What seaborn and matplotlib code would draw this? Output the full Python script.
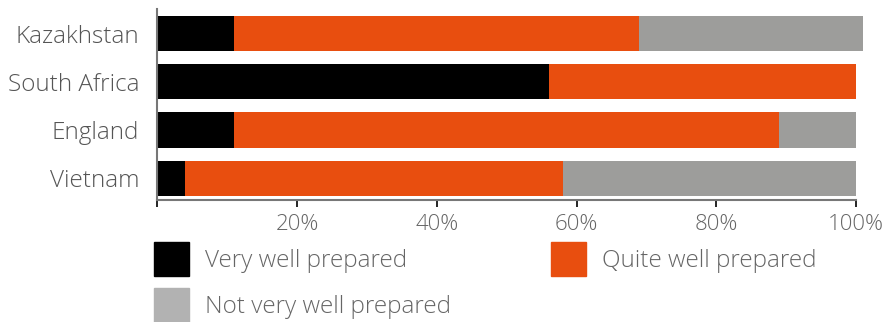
import matplotlib
matplotlib.use("Agg")
import matplotlib.pyplot as plt
from matplotlib.patches import Patch
import seaborn as sns
import numpy as np

countries = ["Kazakhstan", "South Africa", "England", "Vietnam"]
very_well = [11, 56, 11, 4]
quite_well = [58, 44, 78, 54]
not_very = [32, 0, 11, 42]
tick_values = [0, 20, 40, 60, 80, 100]
tick_labels = ["", "20%", "40%", "60%", "80%", "100%"]
series_names = ["Very well prepared", "Quite well prepared", "Not very well prepared"]

BLACK = "#000000"
ORANGE = "#e84e0f"
GRAY = "#9d9d9b"
LEGEND_GRAY = "#b2b2b2"
TEXT = "#666666"

sns.set_theme(style="white")
plt.rcParams["font.family"] = ["Open Sans", "DejaVu Sans"]

fig = plt.figure(figsize=(8.86, 3.22), dpi=100)
ax = fig.add_axes([157.3 / 886, 122 / 322, 712.7 / 886, 191 / 322])

v = np.array(very_well)
q = np.array(quite_well)
n = np.array(not_very)
c1 = v
c2 = v + q
c3 = v + q + n

for vals, col in [(c3, GRAY), (c2, ORANGE), (c1, BLACK)]:
    sns.barplot(x=vals, y=countries, color=col, orient="h", width=0.73,
                ax=ax, saturation=1, linewidth=0)

ax.set_xlim(0, 102)
ax.set_ylim(3.45, -0.51)
ax.set_xlabel("")
ax.set_ylabel("")
ax.set_xticks(tick_values)
ax.set_xticklabels(tick_labels, fontsize=16, color=TEXT, fontweight="light")
ax.tick_params(axis="x", bottom=True, length=5, width=1.2, color="#000000", pad=5)
ax.tick_params(axis="y", left=False, pad=7)
for lab in ax.get_yticklabels():
    lab.set_fontsize(17.5)
    lab.set_color("#555555")
    lab.set_fontweight("light")

for s in ["top", "right"]:
    ax.spines[s].set_visible(False)
ax.spines["left"].set_color("#777777")
ax.spines["left"].set_linewidth(1.5)
ax.spines["bottom"].set_color("#777777")
ax.spines["bottom"].set_linewidth(1.5)
ax.spines["bottom"].set_bounds(0, 100)

handles = [Patch(color=BLACK), Patch(color=LEGEND_GRAY), Patch(color=ORANGE)]
labels = [series_names[0], series_names[2], series_names[1]]
leg = fig.legend(handles, labels, loc="upper left",
                 bbox_to_anchor=(154 / 886, 1 - 242 / 322), ncol=2,
                 frameon=False, fontsize=17.5, handlelength=1.44, handleheight=1.80,
                 handletextpad=0.66, labelspacing=0.48, columnspacing=4.1,
                 borderpad=0, borderaxespad=0)
for t in leg.get_texts():
    t.set_color(TEXT)
    t.set_fontweight("light")

fig.savefig("out.png", dpi=100)
